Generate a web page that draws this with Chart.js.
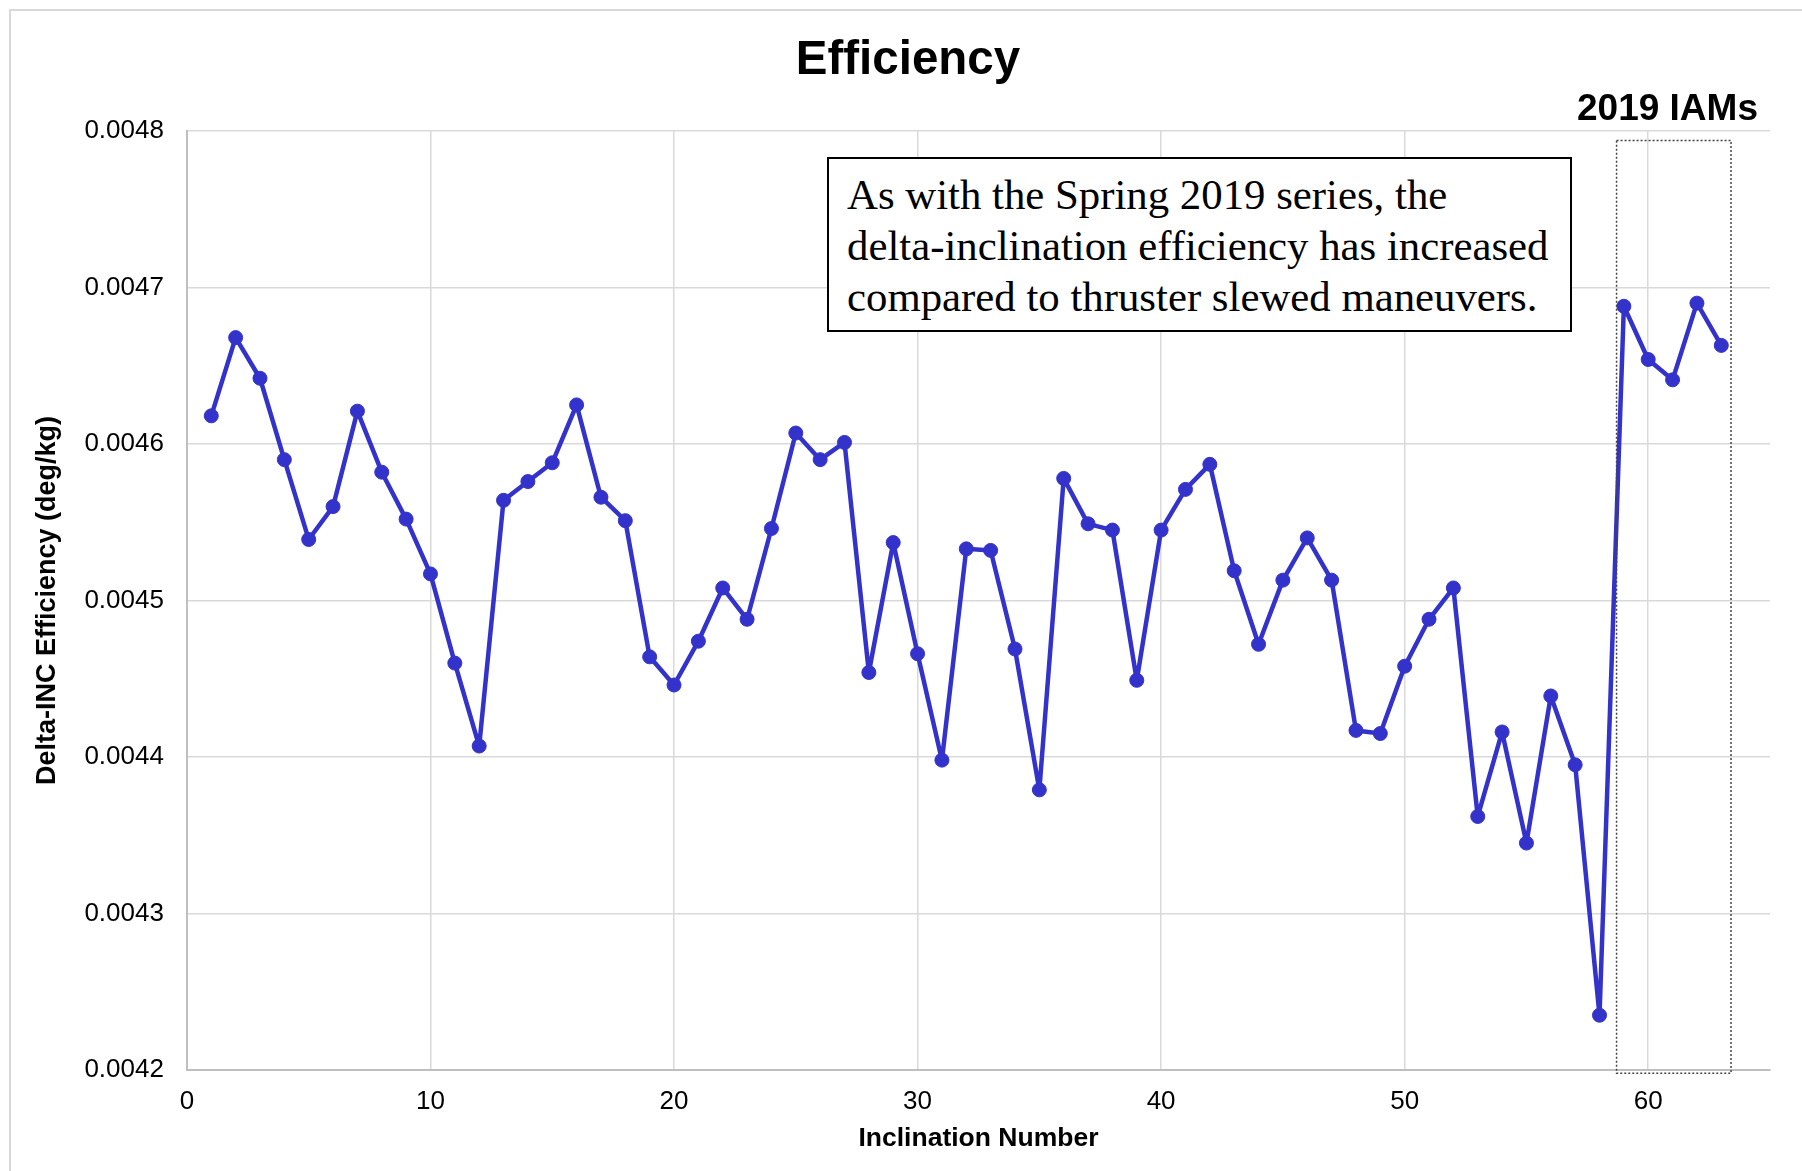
<!DOCTYPE html>
<html>
<head>
<meta charset="utf-8">
<script src="https://cdn.jsdelivr.net/npm/chart.js@4/dist/chart.umd.min.js"></script>
<style>
  html, body { margin: 0; padding: 0; background: #fff; }
  #wrap { position: relative; width: 1802px; height: 1171px; overflow: hidden; }
  #frame { position: absolute; left: 9px; top: 9px; width: 2000px; height: 2000px;
           border-left: 2px solid #d9d9d9; border-top: 2px solid #d9d9d9; }
  #title { position: absolute; left: 0; top: 30px; width: 1816px; text-align: center;
           font-family: "Liberation Sans", Arial, sans-serif; font-weight: bold;
           font-size: 47.5px; line-height: 56px; color: #000; }
  #note { position: absolute; left: 827px; top: 157px; width: 745px; height: 175px;
          border: 2px solid #000; background: #fff; box-sizing: border-box;
          font-family: "Liberation Serif", "Times New Roman", serif; font-size: 42.8px;
          line-height: 51px; padding: 10px 0 0 18px; color: #000; white-space: nowrap; }
  #iams { position: absolute; right: 44px; top: 86px;
          font-family: "Liberation Sans", Arial, sans-serif; font-weight: bold;
          font-size: 37px; line-height: 44px; color: #000; }
</style>
</head>
<body>
<div id="wrap">
  <div id="frame"></div>
  <canvas id="chart" width="1802" height="1171"></canvas>
  <div id="title">Efficiency</div>
  <div id="note">As with the Spring 2019 series, the<br>delta-inclination efficiency has increased<br>compared to thruster slewed maneuvers.</div>
  <div id="iams">2019 IAMs</div>
</div>
<script>
// inclination numbers 1..63
const inclinations = [
  1, 2, 3, 4, 5, 6, 7, 8, 9, 10,
  11, 12, 13, 14, 15, 16, 17, 18, 19, 20,
  21, 22, 23, 24, 25, 26, 27, 28, 29, 30,
  31, 32, 33, 34, 35, 36, 37, 38, 39, 40,
  41, 42, 43, 44, 45, 46, 47, 48, 49, 50,
  51, 52, 53, 54, 55, 56, 57, 58, 59, 60,
  61, 62, 63
];
// delta-INC efficiency (deg/kg)
const efficiency = [
  0.004618, 0.004668, 0.004642, 0.004590, 0.004539, 0.004560, 0.004621, 0.004582, 0.004552, 0.004517,
  0.004460, 0.004407, 0.004564, 0.004576, 0.004588, 0.004625, 0.004566, 0.004551, 0.004464, 0.004446,
  0.004474, 0.004508, 0.004488, 0.004546, 0.004607, 0.004590, 0.004601, 0.004454, 0.004537, 0.004466,
  0.004398, 0.004533, 0.004532, 0.004469, 0.004379, 0.004578, 0.004549, 0.004545, 0.004449, 0.004545,
  0.004571, 0.004587, 0.004519, 0.004472, 0.004513, 0.004540, 0.004513, 0.004417, 0.004415, 0.004458,
  0.004488, 0.004508, 0.004362, 0.004416, 0.004345, 0.004439, 0.004395, 0.004235, 0.004688, 0.004654,
  0.004641, 0.004690, 0.004663
];
// axis ticks
const xTicks = [0, 10, 20, 30, 40, 50, 60];
const yTicks = [0.0042, 0.0043, 0.0044, 0.0045, 0.0046, 0.0047, 0.0048];
// the 2019 IAMs region, in data units: [x from, x to, y top, y bottom]
const iamRegion = [58.7, 63.4, 0.004794, 0.004198];

const FONT = "'Liberation Sans', Arial, sans-serif";
const LINE = '#3333cc';

// dotted box round the 2019 IAMs points
const iamBox = {
  id: 'iamBox',
  afterDatasetsDraw(chart) {
    const { ctx, scales: { x, y } } = chart;
    const x1 = x.getPixelForValue(iamRegion[0]);
    const x2 = x.getPixelForValue(iamRegion[1]);
    const y1 = y.getPixelForValue(iamRegion[2]);
    const y2 = y.getPixelForValue(iamRegion[3]);
    ctx.save();
    ctx.strokeStyle = '#444';
    ctx.lineWidth = 1.5;
    ctx.setLineDash([2, 2]);
    ctx.strokeRect(x1, y1, x2 - x1, y2 - y1);
    ctx.restore();
  }
};

const chart = new Chart(document.getElementById('chart'), {
  type: 'line',
  data: {
    datasets: [{
      data: inclinations.map((n, i) => ({ x: n, y: efficiency[i] })),
      borderColor: LINE,
      backgroundColor: LINE,
      borderWidth: 4.5,
      borderJoinStyle: 'round',
      pointRadius: 7,
      pointBorderWidth: 1,
      pointBackgroundColor: LINE,
      pointBorderColor: LINE,
      tension: 0,
      clip: false
    }]
  },
  options: {
    responsive: false,
    animation: false,
    layout: { padding: { left: 31, right: 32, top: 131, bottom: 16 } },
    plugins: {
      legend: { display: false },
      tooltip: { enabled: false },
      title: { display: false }
    },
    scales: {
      x: {
        type: 'linear',
        min: 0,
        max: 65,
        afterBuildTicks: s => { s.ticks = xTicks.map(v => ({ value: v })); },
        ticks: {
          color: '#000',
          font: { family: FONT, size: 26 },
          padding: 16
        },
        grid: { color: '#d9d9d9', lineWidth: 1.5, drawTicks: false },
        border: { color: '#bfbfbf', width: 2 },
        title: {
          display: true,
          text: 'Inclination Number',
          color: '#000',
          font: { family: FONT, size: 26.5, weight: 'bold' },
          padding: { top: -10, bottom: 0 }
        }
      },
      y: {
        type: 'linear',
        min: 0.0042,
        max: 0.0048,
        afterBuildTicks: s => { s.ticks = yTicks.map(v => ({ value: v })); },
        ticks: {
          color: '#000',
          font: { family: FONT, size: 26 },
          padding: 23,
          callback: v => v.toFixed(4)
        },
        grid: { color: '#d9d9d9', lineWidth: 1.5, drawTicks: false },
        border: { color: '#bfbfbf', width: 2 },
        title: {
          display: true,
          text: 'Delta-INC Efficiency (deg/kg)',
          color: '#000',
          font: { family: FONT, size: 27, weight: 'bold' },
          padding: { top: 0, bottom: -2 }
        }
      }
    }
  },
  plugins: [iamBox]
});
</script>
</body>
</html>
